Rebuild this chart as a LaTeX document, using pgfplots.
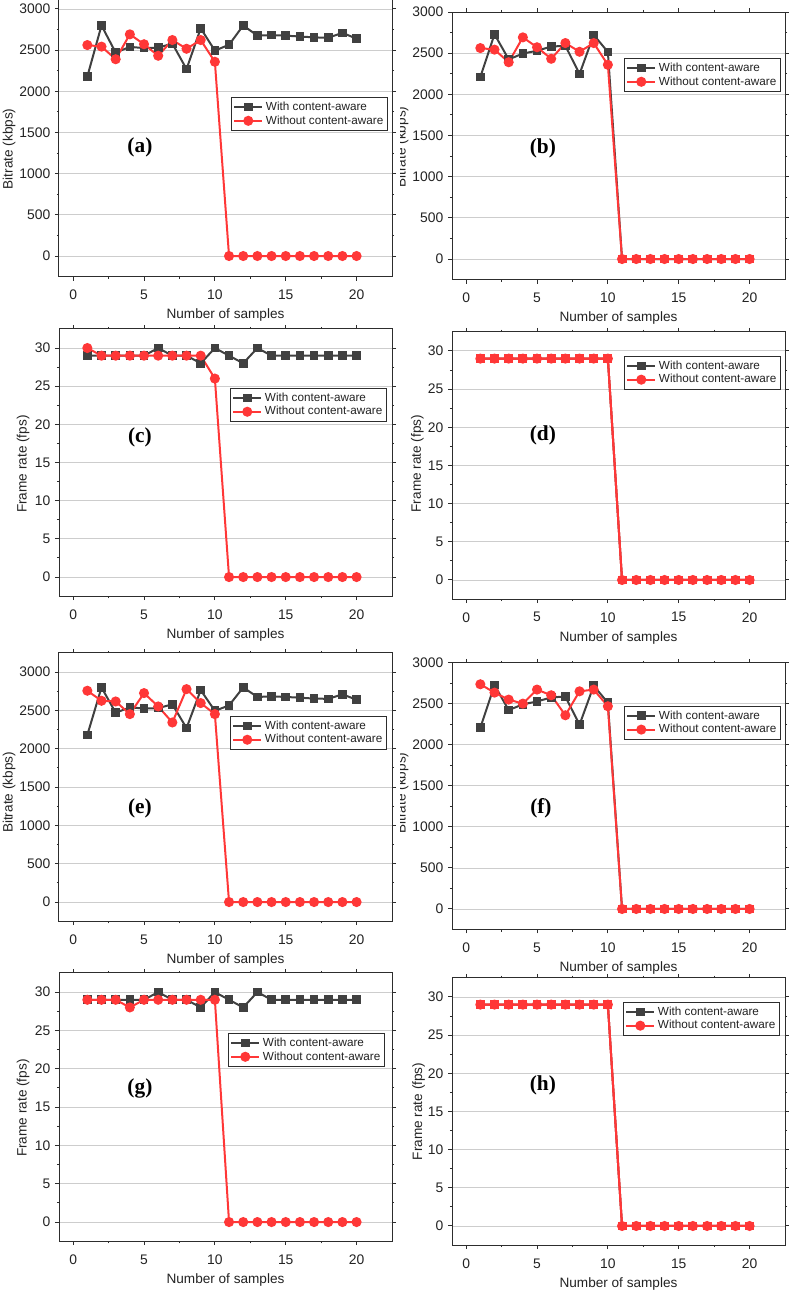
\documentclass[border=0pt]{standalone}
\usepackage{fontspec}
\setmainfont{Liberation Sans}
\newfontfamily\serifb{Liberation Serif}
\usepackage{pgfplots}
\usepackage{pgfplotstable}
\pgfplotsset{compat=1.18}
\definecolor{gcol}{RGB}{64,64,64}
\definecolor{rcol}{RGB}{255,55,55}
\definecolor{axcol}{RGB}{45,45,45}
\definecolor{gridcol}{RGB}{205,205,205}
\definecolor{txtcol}{RGB}{35,35,35}

\pgfplotstableread{
x ga gb ra re rf fg rc rg fd
1 2180 2210 2562 2757 2740 29 30 29 29
2 2800 2730 2543 2626 2638 29 29 29 29
3 2470 2425 2390 2617 2553 29 29 29 29
4 2540 2495 2692 2452 2504 29 29 28 29
5 2525 2530 2572 2726 2675 29 29 29 29
6 2530 2580 2432 2552 2606 30 29 29 29
7 2580 2590 2623 2343 2362 29 29 29 29
8 2270 2247 2517 2778 2654 29 29 29 29
9 2765 2722 2623 2596 2675 28 29 29 29
10 2495 2515 2359 2452 2472 30 26 29 29
11 2565 0 0 0 0 29 0 0 0
12 2800 0 0 0 0 28 0 0 0
13 2676 0 0 0 0 30 0 0 0
14 2683 0 0 0 0 29 0 0 0
15 2676 0 0 0 0 29 0 0 0
16 2666 0 0 0 0 29 0 0 0
17 2655 0 0 0 0 29 0 0 0
18 2651 0 0 0 0 29 0 0 0
19 2710 0 0 0 0 29 0 0 0
20 2640 0 0 0 0 29 0 0 0
}\data

\pgfplotsset{
  panel/.style={
    scale only axis, width=249.75pt,
    xmin=-1, xmax=22.5, xtick={0,5,...,20}, minor x tick num=1,
    tick align=outside, major tick length=3pt, minor tick length=1.6pt,
    axis line style={axcol, line width=0.75pt},
    every tick/.style={axcol, line width=0.75pt},
    ymajorgrids, grid style={gridcol, line width=0.7pt},
    tick label style={font=\fontsize{10.4}{12}\selectfont, text=txtcol},
    xticklabel style={yshift=-3.5pt},
    /pgf/number format/assume math mode=true,
    /pgf/number format/1000 sep={},
    label style={font=\fontsize{10.2}{12}\selectfont, text=txtcol},
    xlabel={Number of samples},
    xlabel style={at={(axis description cs:0.5,0)}, anchor=center, yshift=-29pt},
    legend cell align=left,
    legend image code/.code={\draw[mark repeat=2,mark phase=2,##1] plot coordinates {(0pt,0pt) (10.5pt,0pt) (21pt,0pt)};},
  },
  lg/.style 2 args={legend style={at={(axis description cs:#1,#2)}, anchor=north east,
    font=\fontsize{8.8}{10}\selectfont, draw=axcol, line width=0.6pt, inner sep=1.2pt, row sep=-1.5pt, text=txtcol}},
  br/.style={ymin=-250, ytick={0,500,...,3000}, minor y tick num=1, ylabel={Bitrate (kbps)}},
  fr/.style={ymin=-2.5, ymax=32.5, ytick={0,5,...,30}, minor y tick num=1, ylabel={Frame rate (fps)}},
  ylab/.style 2 args={ylabel style={at={(axis description cs:#1,#2)}, anchor=center}},
  gser/.style={gcol, line width=1.5pt, mark=square*, mark size=2.5pt, mark options={fill=gcol, draw=gcol, solid}},
  rser/.style={rcol, line width=1.5pt, mark=*, mark size=3pt, mark options={fill=rcol, draw=rcol, solid}},
  rsq/.style={rcol, line width=1.5pt, mark=square*, mark size=2.6pt, mark options={fill=rcol, draw=rcol, solid}},
}
\newcommand\plab[3]{\node[font=\serifb\bfseries\fontsize{16}{18}\selectfont, text=black] at (rel axis cs:#1,#2) {#3};}

\begin{document}
\begin{tikzpicture}
\useasboundingbox (0,0) rectangle (591.75pt,-969.75pt);
\begin{scope}
\clip (0,0) rectangle (591.75pt,-969.75pt);

% (a)
\begin{scope}
\clip (-5pt,5pt) rectangle (300pt,-975pt);
\begin{axis}[panel, br, ymax=3250, at={(44.25pt,-207.45pt)}, anchor=south west, height=216.15pt,
  ylab={-0.150}{0.443}, lg={0.988}{0.623}]
\addplot[gser] table[x=x,y=ga] {\data};
\addlegendentry{With content-aware}
\addplot[rser] table[x=x,y=ra] {\data};
\addlegendentry{Without content-aware}
\plab{0.243}{0.450}{(a)}
\end{axis}
\end{scope}

% (b)
\begin{scope}
\clip (300pt,5pt) rectangle (600pt,-975pt);
\begin{axis}[panel, br, ymax=3000, at={(339pt,-209.7pt)}, anchor=south west, height=200.7pt,
  ylab={-0.150}{0.4955}, lg={0.988}{0.828}]
\addplot[gser] table[x=x,y=gb] {\data};
\addlegendentry{With content-aware}
\addplot[rser] table[x=x,y=ra] {\data};
\addlegendentry{Without content-aware}
\addplot[rsq, forget plot, skip coords between index={0}{10}] table[x=x,y=gb] {\data};
\plab{0.273}{0.492}{(b)}
\end{axis}
\end{scope}

% (c)
\begin{scope}
\clip (-5pt,5pt) rectangle (300pt,-975pt);
\begin{axis}[panel, fr, at={(44.25pt,-447.1pt)}, anchor=south west, height=200.4pt,
  ylab={-0.108}{0.494}, lg={0.985}{0.779}]
\addplot[gser] table[x=x,y=fg] {\data};
\addlegendentry{With content-aware}
\addplot[rser] table[x=x,y=rc] {\data};
\addlegendentry{Without content-aware}
\plab{0.243}{0.595}{(c)}
\end{axis}
\end{scope}

% (d)
\begin{scope}
\clip (300pt,5pt) rectangle (600pt,-975pt);
\begin{axis}[panel, fr, at={(339pt,-449.3pt)}, anchor=south west, height=200.4pt,
  ylab={-0.104}{0.507}, lg={0.988}{0.910}]
\addplot[gser] table[x=x,y=fd] {\data};
\addlegendentry{With content-aware}
\addplot[rser] table[x=x,y=fd] {\data};
\addlegendentry{Without content-aware}
\addplot[rsq, forget plot] table[x=x,y=fd] {\data};
\plab{0.273}{0.614}{(d)}
\end{axis}
\end{scope}

% (e)
\begin{scope}
\clip (-5pt,5pt) rectangle (300pt,-975pt);
\begin{axis}[panel, br, ymax=3250, at={(44.25pt,-690.9pt)}, anchor=south west, height=201.2pt,
  ylab={-0.150}{0.48}, lg={0.985}{0.765}]
\addplot[gser] table[x=x,y=ga] {\data};
\addlegendentry{With content-aware}
\addplot[rser] table[x=x,y=re] {\data};
\addlegendentry{Without content-aware}
\plab{0.243}{0.422}{(e)}
\end{axis}
\end{scope}

% (f)
\begin{scope}
\clip (300pt,5pt) rectangle (600pt,-975pt);
\begin{axis}[panel, br, ymax=3000, at={(339pt,-697.1pt)}, anchor=south west, height=199.9pt,
  ylab={-0.150}{0.512}, lg={0.988}{0.839}]
\addplot[gser] table[x=x,y=gb] {\data};
\addlegendentry{With content-aware}
\addplot[rser] table[x=x,y=rf] {\data};
\addlegendentry{Without content-aware}
\addplot[rsq, forget plot, skip coords between index={0}{10}] table[x=x,y=gb] {\data};
\plab{0.267}{0.456}{(f)}
\end{axis}
\end{scope}

% (g)
\begin{scope}
\clip (-5pt,5pt) rectangle (300pt,-975pt);
\begin{axis}[panel, fr, at={(44.25pt,-930.9pt)}, anchor=south west, height=201.2pt,
  ylab={-0.108}{0.496}, lg={0.979}{0.776}]
\addplot[gser] table[x=x,y=fg] {\data};
\addlegendentry{With content-aware}
\addplot[rser] table[x=x,y=rg] {\data};
\addlegendentry{Without content-aware}
\plab{0.243}{0.571}{(g)}
\end{axis}
\end{scope}

% (h)
\begin{scope}
\clip (300pt,5pt) rectangle (600pt,-975pt);
\begin{axis}[panel, fr, at={(339pt,-933.8pt)}, anchor=south west, height=200.4pt,
  ylab={-0.100}{0.5}, lg={0.985}{0.910}]
\addplot[gser] table[x=x,y=fd] {\data};
\addlegendentry{With content-aware}
\addplot[rser] table[x=x,y=fd] {\data};
\addlegendentry{Without content-aware}
\addplot[rsq, forget plot] table[x=x,y=fd] {\data};
\plab{0.273}{0.599}{(h)}
\end{axis}
\end{scope}

\end{scope}
\end{tikzpicture}
\end{document}
